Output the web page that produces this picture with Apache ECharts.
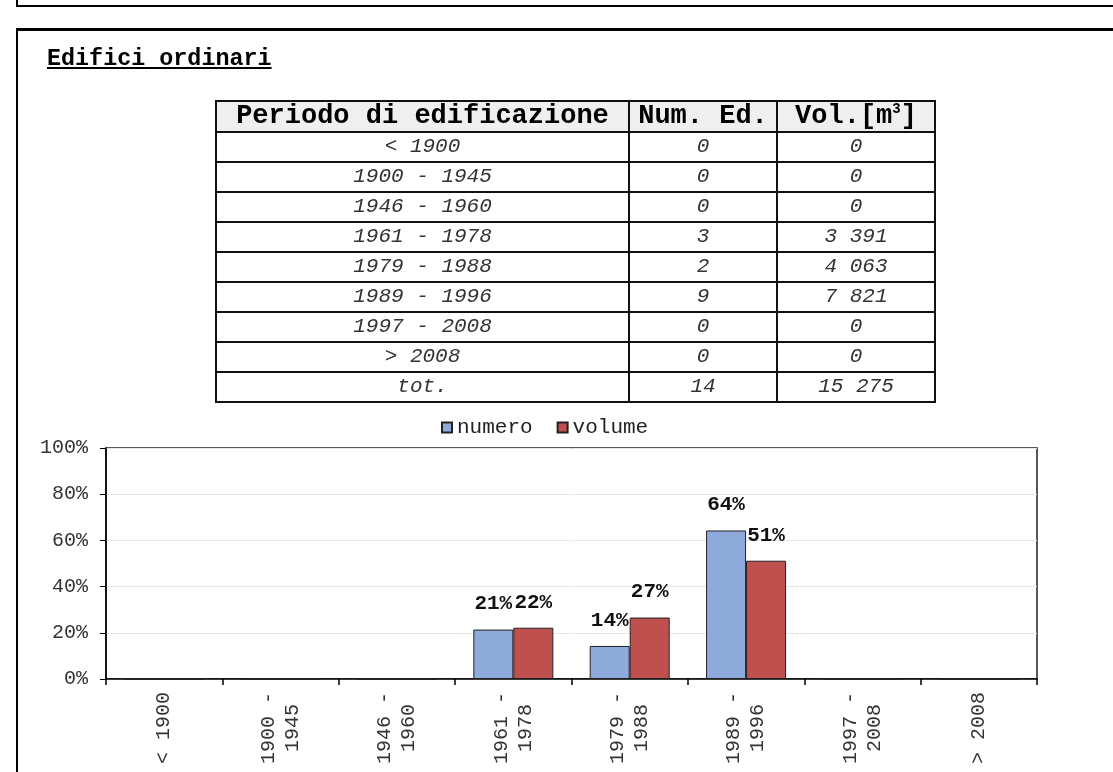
<!DOCTYPE html>
<html>
<head>
<meta charset="utf-8">
<script src="https://cdn.jsdelivr.net/npm/echarts@6/dist/echarts.min.js"></script>
<style>
  html, body { margin: 0; padding: 0; background: #fff; overflow: hidden; }
  body { width: 1113px; height: 772px; position: relative; font-family: 'Liberation Mono', 'Courier New', monospace; }
  #main { position: absolute; left: 0; top: 0; width: 1113px; height: 772px; }
  .box1 { position: absolute; left: 16px; top: -20px; width: 1200px; height: 27px; box-sizing: border-box; border-left: 2px solid #000; border-bottom: 2px solid #000; }
  .box2 { position: absolute; left: 16px; top: 28px; width: 1200px; height: 800px; box-sizing: border-box; border-left: 2px solid #000; border-top: 3px solid #000; }
  #title { position: absolute; left: 47px; top: 46px; font-size: 23.4px; font-weight: bold; text-decoration: underline; color: #000; }
  #tbl { position: absolute; left: 215px; top: 100px; border-collapse: collapse; }
  #tbl td, #tbl th { border: 2px solid #111; padding: 0; text-align: center; white-space: nowrap; }
  #tbl th { height: 29px; line-height: 29px; background: #efefef; font-size: 27px; font-weight: bold; color: #000; }
  #tbl td { height: 28px; line-height: 28px; font-size: 21px; font-style: italic; color: #333; }
  #tbl sup { font-size: 14px; line-height: 0; }
</style>
</head>
<body>
<div id="main"></div>
<div class="box1"></div>
<div class="box2"></div>
<div id="title">Edifici ordinari</div>
<table id="tbl"></table>
<script>
// dati della tabella
var periodi = ['< 1900', '1900 - 1945', '1946 - 1960', '1961 - 1978', '1979 - 1988', '1989 - 1996', '1997 - 2008', '> 2008'];
var numEdifici = [0, 0, 0, 3, 2, 9, 0, 0];
var volumi = [0, 0, 0, 3391, 4063, 7821, 0, 0];
var totNum = 14;
var totVol = 15275;

// percentuali del grafico
var numeroPct = [0, 0, 0, 21.4, 14.3, 64.3, 0, 0];
var volumePct = [0, 0, 0, 22.2, 26.6, 51.2, 0, 0];
var yTicks = [0, 20, 40, 60, 80, 100];

function fmt(n) {
    return String(n).replace(/\B(?=(\d{3})+(?!\d))/g, ' ');
}

// tabella
var tbl = document.getElementById('tbl');
var html = '<tr><th style="width:411px">Periodo di edificazione</th><th style="width:146px">Num. Ed.</th><th style="width:156px">Vol.[m<sup>3</sup>]</th></tr>';
for (var i = 0; i < periodi.length; i++) {
    html += '<tr><td>' + periodi[i].replace('<', '&lt;').replace('>', '&gt;') + '</td><td>' + numEdifici[i] + '</td><td>' + fmt(volumi[i]) + '</td></tr>';
}
html += '<tr><td>tot.</td><td>' + totNum + '</td><td>' + fmt(totVol) + '</td></tr>';
tbl.innerHTML = html;

var FONT = "'Liberation Mono', 'Courier New', monospace";
var chartDom = document.getElementById('main');
var myChart = echarts.init(chartDom);
var option;

var labelOpt = {
    show: true,
    position: 'top',
    distance: 15,
    fontFamily: FONT,
    fontSize: 21,
    fontWeight: 'bold',
    color: '#111',
    formatter: function (p) { return p.value ? Math.round(p.value) + '%' : ''; }
};

option = {
    animation: false,
    backgroundColor: '#fff',
    textStyle: { fontFamily: FONT },
    legend: {
        left: 436,
        top: 412,
        icon: 'rect',
        itemWidth: 10,
        itemHeight: 10,
        itemGap: 24,
        textStyle: { fontFamily: FONT, fontSize: 21, color: '#222' },
        data: ['numero', 'volume']
    },
    grid: {
        left: 106,
        right: 76,
        top: 448,
        bottom: 93,
        show: true,
        borderColor: '#222',
        borderWidth: 1.5
    },
    xAxis: {
        type: 'category',
        data: periodi,
        axisLine: { lineStyle: { color: '#000', width: 1.5 } },
        axisTick: { show: true, length: 6, lineStyle: { color: '#000', width: 1.5 } },
        axisLabel: {
            interval: 0,
            rotate: 90,
            align: 'center',
            verticalAlign: 'middle',
            margin: 49,
            fontFamily: FONT,
            fontSize: 20,
            lineHeight: 24,
            color: '#333',
            formatter: function (v) { return v.replace(' - ', ' -\n'); }
        }
    },
    yAxis: {
        type: 'value',
        min: yTicks[0],
        max: yTicks[yTicks.length - 1],
        interval: 20,
        axisLine: { show: true, lineStyle: { color: '#000', width: 1.5 } },
        axisTick: { show: true, length: 6, lineStyle: { color: '#000', width: 1 } },
        axisLabel: {
            margin: 18,
            fontFamily: FONT,
            fontSize: 20,
            color: '#333',
            formatter: '{value}%'
        },
        splitLine: { lineStyle: { color: '#e8e8e0', width: 1 } }
    },
    series: [
        {
            name: 'numero',
            type: 'bar',
            data: numeroPct,
            barWidth: 40,
            barGap: '0%',
            itemStyle: { color: '#8eaadb', borderColor: '#222', borderWidth: 1 },
            label: labelOpt
        },
        {
            name: 'volume',
            type: 'bar',
            data: volumePct,
            barWidth: 40,
            barGap: '0%',
            itemStyle: { color: '#c0504d', borderColor: '#222', borderWidth: 1 },
            label: labelOpt
        }
    ]
};
option && myChart.setOption(option);
</script>
</body>
</html>
